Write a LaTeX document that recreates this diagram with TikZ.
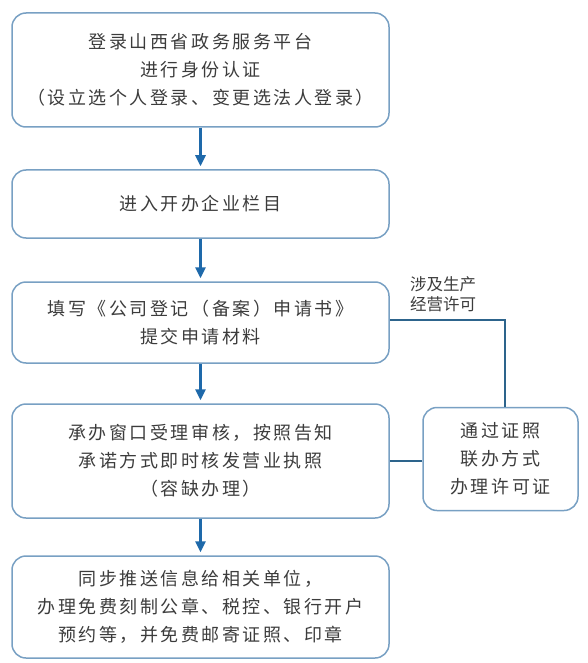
\documentclass[tikz,border=0pt]{standalone}
\usepackage{fontspec}
\setmainfont{Noto Sans CJK SC}[LetterSpace=14]
\newfontfamily\notefont{Noto Sans CJK SC}
\usetikzlibrary{arrows.meta}
\usetikzlibrary{positioning}
\definecolor{boxline}{RGB}{120,160,195}
\definecolor{arrowblue}{RGB}{30,105,170}
\definecolor{joincolor}{RGB}{45,100,140}
\definecolor{textgray}{RGB}{60,60,60}
\tikzset{stepbox/.style = {draw=boxline, line width=1.5pt, rounded corners=14pt,
                           minimum width=377pt, inner sep=0pt, align=center,
                           text=textgray, font=\fontsize{18}{28}\selectfont},
         flow/.style = {draw=arrowblue, line width=2.6pt, shorten >=3pt,
                        -{Triangle[width=10pt,length=11pt]}},
         linkline/.style = {draw=joincolor, line width=2pt}}

\begin{document}
\begin{tikzpicture}[x=1pt, y=-1pt]
      \useasboundingbox (0, 0) rectangle (588, 663);

      \node [stepbox, minimum height=114pt] (login) at (200.5, 70)
            {登录山西省政务服务平台\\进行身份认证\\（设立选个人登录、变更选法人登录）};
      \node [stepbox, minimum height=68pt] (column) at (200.5, 204) {进入开办企业栏目};
      \node [stepbox, minimum height=81pt] (fill) at (200.5, 322.5)
            {填写《公司登记（备案）申请书》\\提交申请材料};
      \node [stepbox, minimum height=114pt] (review) at (200.5, 461)
            {承办窗口受理审核，按照告知\\承诺方式即时核发营业执照\\（容缺办理）};
      \node [stepbox, minimum height=102pt] (push) at (200.5, 607)
            {同步推送信息给相关单位，\\办理免费刻制公章、税控、银行开户\\预约等，并免费邮寄证照、印章};
      \node [stepbox, minimum width=155pt, minimum height=103pt] (permit) at (500.5, 459)
            {通过证照\\联办方式\\办理许可证};
      \node [anchor=north west, inner sep=0pt, align=left, text=textgray,
             font=\notefont\fontsize{16.5}{20}\selectfont] (scope) at (410, 276)
            {涉及生产\\经营许可};

      \draw [flow] (login) -- (column);
      \draw [flow] (column) -- (fill);
      \draw [flow] (fill) -- (review);
      \draw [flow] (review) -- (push);

      \draw [linkline] ([yshift=2.5pt]fill.east) -| ([xshift=4.5pt]permit.north);
      \draw [linkline] (review.east) -- (review.east -| permit.west);
    \end{tikzpicture}
\end{document}
